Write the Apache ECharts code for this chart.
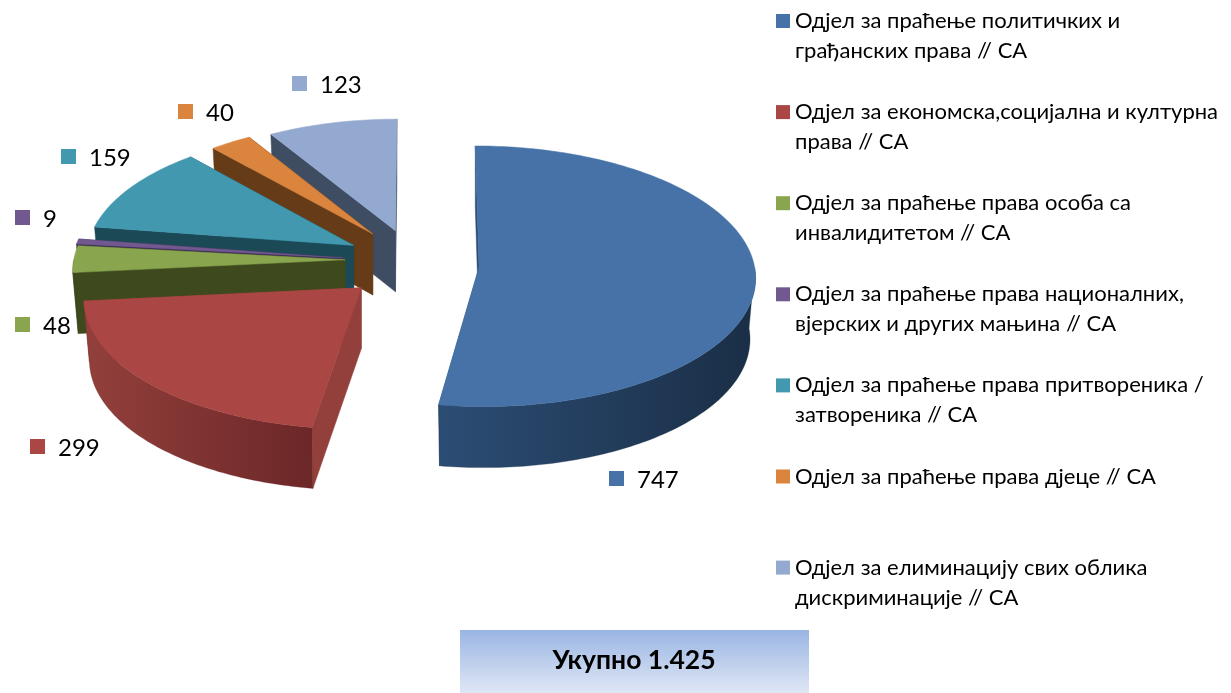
<!DOCTYPE html>
<html>
<head>
<meta charset="utf-8">
<title>Укупно 1.425</title>
<style>
html, body { margin: 0; padding: 0; background: #fff; }
#chart { width: 1231px; height: 693px; }
</style>
<script src="https://cdn.jsdelivr.net/npm/echarts@6/dist/echarts.min.js"></script>
</head>
<body>
<div id="chart"></div>
<script>
var categories = [
    'Одјел за праћење политичких и\nграђанских права // СА',
    'Одјел за економска,социјална и културна\nправа // СА',
    'Одјел за праћење права особа са\nинвалидитетом // СА',
    'Одјел за праћење права националних,\nвјерских и других мањина // СА',
    'Одјел за праћење права притвореника /\nзатвореника // СА',
    'Одјел за праћење права дјеце // СА',
    'Одјел за елиминацију свих облика\nдискриминације // СА'
];
var values = [747, 299, 48, 9, 159, 40, 123];
var totalLabel = 'Укупно 1.425';

// styling of the slices
var topColors = ['#4672a8', '#aa4643', '#89a54e', '#71588f', '#4198af', '#db843d', '#93a9cf'];
var sideLeft = ['#2c4d74', '#93403c', '#3e4a1e', '#3a2a55', '#1b4a56', '#653c17', '#3f4d63'];
var sideRight = ['#1a2e46', '#6c2728', '#3a461c', '#33264a', '#173f49', '#5e3715', '#3a465a'];
// how far each slice is pulled out of the pie, on the ground plane
var explodeU = [59, -58, -75, -77, -67, -48, -25];
var explodeV = [7, 50, -9, -13, -40, -65, -72];
var radii = [275, 273, 272, 272, 268, 262, 262];
var valueLabelPos = [[609, 471], [30, 439], [15, 317], [15, 210], [61, 149], [178, 104], [292, 76]];
var paintOrder = [6, 5, 4, 3, 2, 1, 0];

// pie projection
var cx = 420, cy = 264, tilt = 0.47, persp = 0.00025, depth = 61;
var total = values.reduce(function (a, b) { return a + b; }, 0);
var rad = Math.PI / 180;

function sliceAngles(i) {
    var before = 0;
    for (var k = 0; k < i; k++) before += values[k];
    return [before / total * 360, (before + values[i]) / total * 360];
}

function project(i, angle, r, low) {
    var u = explodeU[i] + r * Math.sin(angle * rad);
    var v = explodeV[i] - r * Math.cos(angle * rad);
    var s = 1 / (1 - persp * v);
    var x = u;
    if (low) x = explodeU[i] + (u - explodeU[i]) * 0.98;
    return [cx + x * s, cy + v * tilt * s + (low ? depth : 0)];
}

function wall(i, angle, fill) {
    var r = radii[i];
    return {
        type: 'polygon',
        shape: { points: [project(i, angle, 0), project(i, angle, r), project(i, angle, r, true), project(i, angle, 0, true)] },
        style: { fill: fill, stroke: fill, lineWidth: 0.5 }
    };
}

function renderSlice(params, api) {
    var i = paintOrder[params.seriesIndex];
    var a = sliceAngles(i);
    var r = radii[i];
    var children = [];
    var fill = new echarts.graphic.LinearGradient(0, 0, 1, 0, [
        { offset: 0, color: sideLeft[i] },
        { offset: 1, color: sideRight[i] }
    ]);

    // cut faces, the one further back goes first
    var walls = [a[0], a[1]].sort(function (p, q) {
        return project(i, p, r)[1] - project(i, q, r)[1];
    });
    walls.forEach(function (w) { children.push(wall(i, w, sideLeft[i])); });

    // outer rim, only the part facing the viewer
    var from = Math.max(a[0], 90), to = Math.min(a[1], 270);
    if (to > from) {
        var upper = [], lower = [];
        for (var t = from; t < to; t += 1) {
            upper.push(project(i, t, r));
            lower.unshift(project(i, t, r, true));
        }
        upper.push(project(i, to, r));
        lower.unshift(project(i, to, r, true));
        children.push({
            type: 'polygon',
            shape: { points: upper.concat(lower) },
            style: { fill: fill, stroke: sideRight[i], lineWidth: 0.3 }
        });
    }

    // top face
    var pts = [project(i, 0, 0)];
    for (var d = a[0]; d < a[1]; d += 1) pts.push(project(i, d, r));
    pts.push(project(i, a[1], r));
    children.push({
        type: 'polygon',
        shape: { points: pts },
        style: { fill: topColors[i], stroke: topColors[i], lineWidth: 0.5 }
    });

    return { type: 'group', children: children };
}

function renderValueLabel(params, api) {
    var i = api.value(1);
    var pos = valueLabelPos[i];
    return {
        type: 'group',
        children: [{
            type: 'rect',
            shape: { x: pos[0], y: pos[1], width: 15, height: 15 },
            style: { fill: topColors[i] }
        }, {
            type: 'text',
            style: {
                x: pos[0] + 28, y: pos[1] + 9,
                text: String(api.value(0)),
                fill: '#000',
                font: '24px Lato, "Open Sans", sans-serif',
                verticalAlign: 'middle'
            }
        }]
    };
}

var chart = echarts.init(document.getElementById('chart'));

var series = paintOrder.map(function (i) {
    return {
        type: 'custom',
        name: categories[i],
        coordinateSystem: 'none',
        silent: true,
        itemStyle: { color: topColors[i] },
        data: [[values[i], i]],
        renderItem: renderSlice
    };
});
series.push({
    type: 'custom',
    coordinateSystem: 'none',
    silent: true,
    z: 5,
    data: values.map(function (v, i) { return [v, i]; }),
    renderItem: renderValueLabel
});

chart.setOption({
    animation: false,
    backgroundColor: '#fff',
    tooltip: { show: false },
    legend: {
        data: categories,
        orient: 'vertical',
        left: 776,
        top: -24,
        height: 720,
        padding: 0,
        itemWidth: 14,
        itemHeight: 14,
        itemGap: 1.1,
        icon: 'rect',
        selectedMode: false,
        // blank first line keeps the marker next to the first text line
        formatter: function (name) { return '\n' + (name.indexOf('\n') < 0 ? name + '\n' : name); },
        textStyle: {
            color: '#000',
            fontFamily: 'Lato, "Open Sans", sans-serif',
            fontSize: 22,
            lineHeight: 30
        }
    },
    graphic: [{
        type: 'rect',
        shape: { x: 460, y: 630, width: 349, height: 63 },
        style: {
            fill: new echarts.graphic.LinearGradient(0, 0, 0, 1, [
                { offset: 0, color: '#9ab5e3' },
                { offset: 1, color: '#dfe7f5' }
            ])
        }
    }, {
        type: 'text',
        style: {
            x: 634, y: 660,
            text: totalLabel,
            fill: '#000',
            font: 'bold 26.5px Lato, "Open Sans", sans-serif',
            align: 'center',
            verticalAlign: 'middle'
        }
    }],
    series: series
});
</script>
</body>
</html>
